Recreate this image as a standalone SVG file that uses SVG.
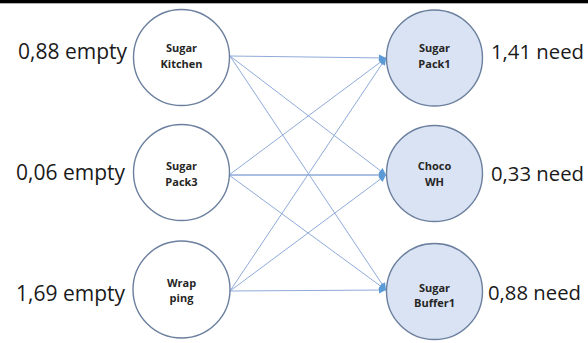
<svg xmlns="http://www.w3.org/2000/svg" width="588" height="343" viewBox="0 0 588 343">
<style>
.src{fill:#ffffff;stroke:#6b7f9e;stroke-width:1.4}
.dst{fill:#dae3f3;stroke:#6b7f9e;stroke-width:1.4}
.nl{font-family:"Open Sans","Noto Sans",sans-serif;font-weight:bold;font-size:11px;fill:#262626;text-anchor:middle}
.ql{font-family:"Open Sans","Noto Sans",sans-serif;font-size:21px;fill:#1a1a1a}
.qr{font-family:"Open Sans","Noto Sans",sans-serif;font-size:20.3px;fill:#1a1a1a}
.e{stroke:#8eaad8;stroke-width:1;fill:none;marker-end:url(#ah)}
</style>
<defs>
<marker id="ah" viewBox="0 0 10 10" refX="10" refY="5" markerWidth="9" markerHeight="7" markerUnits="userSpaceOnUse" orient="auto">
<path d="M0,0 L10,5 L0,10 Z" fill="#5b9bd5"/>
</marker>
</defs>
<rect x="0" y="0" width="588" height="3.3" fill="#000000"/>
<g id="connectors">
<line class="e" x1="230" y1="56" x2="386" y2="58"/>
<line class="e" x1="230" y1="56" x2="386" y2="175"/>
<line class="e" x1="230" y1="56" x2="386" y2="290"/>
<line class="e" x1="229" y1="175" x2="386" y2="58"/>
<line class="e" x1="229" y1="175" x2="386" y2="175" style="stroke-width:1.6"/>
<line class="e" x1="229" y1="175" x2="386" y2="290"/>
<line class="e" x1="230" y1="291" x2="386" y2="58"/>
<line class="e" x1="230" y1="291" x2="386" y2="175"/>
<line class="e" x1="230" y1="291" x2="386" y2="290"/>
</g>
<g id="sugar-kitchen">
<circle class="src" cx="181.5" cy="57.5" r="48"/>
<text class="nl" x="181.5" y="52">Sugar</text>
<text class="nl" x="181.5" y="67.5">Kitchen</text>
<text class="ql" x="127" y="59" text-anchor="end">0,88 empty</text>
</g>
<g id="sugar-pack3">
<circle class="src" cx="181.5" cy="172.5" r="48"/>
<text class="nl" x="181.5" y="170">Sugar</text>
<text class="nl" x="181.5" y="185.5">Pack3</text>
<text class="ql" x="125" y="180" text-anchor="end">0,06 empty</text>
</g>
<g id="wrapping">
<circle class="src" cx="181.5" cy="289.5" r="48.5"/>
<text class="nl" x="181.5" y="286.5">Wrap</text>
<text class="nl" x="181.5" y="302">ping</text>
<text class="ql" x="125" y="301" text-anchor="end">1,69 empty</text>
</g>
<g id="sugar-pack1">
<circle class="dst" cx="434.5" cy="58" r="48"/>
<text class="nl" x="434.5" y="52">Sugar</text>
<text class="nl" x="434.5" y="67.5">Pack1</text>
<text class="qr" x="491" y="59">1,41 need</text>
</g>
<g id="choco-wh">
<circle class="dst" cx="434.5" cy="173.5" r="48"/>
<text class="nl" x="434.5" y="170">Choco</text>
<text class="nl" x="434.5" y="185.5">WH</text>
<text class="qr" x="491" y="181">0,33 need</text>
</g>
<g id="sugar-buffer1">
<circle class="dst" cx="434.5" cy="291.5" r="48"/>
<text class="nl" x="434.5" y="291.5">Sugar</text>
<text class="nl" x="434.5" y="307">Buffer1</text>
<text class="qr" x="488" y="300">0,88 need</text>
</g>
</svg>
